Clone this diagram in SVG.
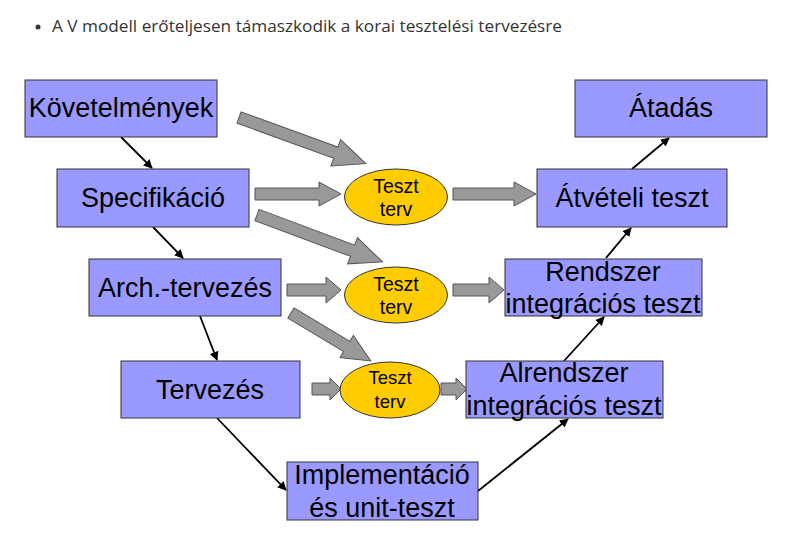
<svg xmlns="http://www.w3.org/2000/svg" width="804" height="551" viewBox="0 0 804 551">
<defs>
<style>
.box{fill:#9999FF;stroke:#333;stroke-width:1}
.ell{fill:#FFCC00;stroke:#333;stroke-width:1}
.bt{font-family:"Liberation Sans",Arial,sans-serif;font-size:27px;fill:#000;text-anchor:middle}
.et{font-family:"Liberation Sans",Arial,sans-serif;font-size:19.5px;fill:#000;text-anchor:middle}
.blk{fill:#999999;stroke:#555;stroke-width:1}
.ln{stroke:#000;stroke-width:1.8;fill:none;marker-end:url(#ah)}
</style>
<marker id="ah" viewBox="0 0 10 10" refX="9" refY="5" markerWidth="5" markerHeight="5" orient="auto" markerUnits="strokeWidth">
<path d="M0,0 L10,5 L0,10 z" fill="#000"/>
</marker>
</defs>
<rect width="804" height="551" fill="#fff"/>
<g id="title">
<circle cx="38" cy="27" r="2.5" fill="#333"/>
<text x="52" y="32" font-family="Open Sans, Noto Sans, sans-serif" font-size="15.5" fill="#333" textLength="510" lengthAdjust="spacingAndGlyphs">A V modell erőteljesen támaszkodik a korai tesztelési tervezésre</text>
</g>
<g id="connectors">
<line class="ln" x1="121" y1="137" x2="152" y2="168"/>
<line class="ln" x1="153" y1="227" x2="183" y2="258"/>
<line class="ln" x1="200" y1="316" x2="217" y2="360"/>
<line class="ln" x1="217" y1="418" x2="286" y2="490"/>
<line class="ln" x1="478" y1="491" x2="568" y2="419"/>
<line class="ln" x1="564" y1="361" x2="604" y2="317"/>
<line class="ln" x1="606" y1="258" x2="631" y2="228"/>
<line class="ln" x1="632" y1="169" x2="669" y2="138"/>
<polygon class="blk" transform="translate(239,117.5) rotate(20)" points="0,-6 103,-6 103,-14 135,0 103,14 103,6 0,6"/>
<polygon class="blk" transform="translate(257,215) rotate(20.5)" points="0,-6 102,-6 102,-14 134,0 102,14 102,6 0,6"/>
<polygon class="blk" transform="translate(291,313) rotate(31)" points="0,-6 65,-6 65,-13 93,0 65,13 65,6 0,6"/>
<polygon class="blk" points="255,188 319,188 319,182 341,194 319,206 319,200 255,200"/>
<polygon class="blk" points="453,188 514,188 514,182 536,194 514,206 514,200 453,200"/>
<polygon class="blk" points="287,284 326,284 326,277 341,290 326,303 326,296 287,296"/>
<polygon class="blk" points="453,284 489,284 489,277 504,290 489,303 489,296 453,296"/>
<polygon class="blk" points="312,383 330,383 330,378 341,389 330,400 330,395 312,395"/>
<polygon class="blk" points="441,383 456,383 456,378 467,389 456,400 456,395 441,395"/>
</g>
<g id="kovetelmenyek"><rect class="box" x="25" y="80" width="192" height="57"/><text class="bt" x="121" y="117">Követelmények</text></g>
<g id="specifikacio"><rect class="box" x="57" y="169" width="192" height="58"/><text class="bt" x="153" y="207">Specifikáció</text></g>
<g id="arch"><rect class="box" x="89" y="259" width="192" height="57"/><text class="bt" x="185" y="297">Arch.-tervezés</text></g>
<g id="tervezes"><rect class="box" x="121" y="361" width="179" height="57"/><text class="bt" x="210" y="399">Tervezés</text></g>
<g id="implementacio"><rect class="box" x="287" y="462" width="191" height="58"/><text class="bt" x="382" y="484">Implementáció</text><text class="bt" x="382" y="517">és unit-teszt</text></g>
<g id="alrendszer"><rect class="box" x="466" y="361" width="197" height="57"/><text class="bt" x="564" y="382">Alrendszer</text><text class="bt" x="564" y="415">integrációs teszt</text></g>
<g id="rendszer"><rect class="box" x="505" y="259" width="197" height="57"/><text class="bt" x="603" y="281">Rendszer</text><text class="bt" x="603" y="313">integrációs teszt</text></g>
<g id="atveteli"><rect class="box" x="537" y="169" width="190" height="58"/><text class="bt" x="632" y="207">Átvételi teszt</text></g>
<g id="atadas"><rect class="box" x="575" y="80" width="192" height="57"/><text class="bt" x="671" y="117">Átadás</text></g>
<g id="teszt1"><ellipse class="ell" cx="396" cy="197" rx="51.5" ry="28"/><text class="et" x="396" y="193">Teszt</text><text class="et" x="396" y="216">terv</text></g>
<g id="teszt2"><ellipse class="ell" cx="396" cy="295" rx="51.5" ry="28"/><text class="et" x="396" y="291">Teszt</text><text class="et" x="396" y="314">terv</text></g>
<g id="teszt3"><ellipse class="ell" cx="390" cy="390" rx="50" ry="28"/><text class="et" x="390" y="384" style="font-size:18.5px">Teszt</text><text class="et" x="390" y="408" style="font-size:18.5px">terv</text></g>
</svg>
